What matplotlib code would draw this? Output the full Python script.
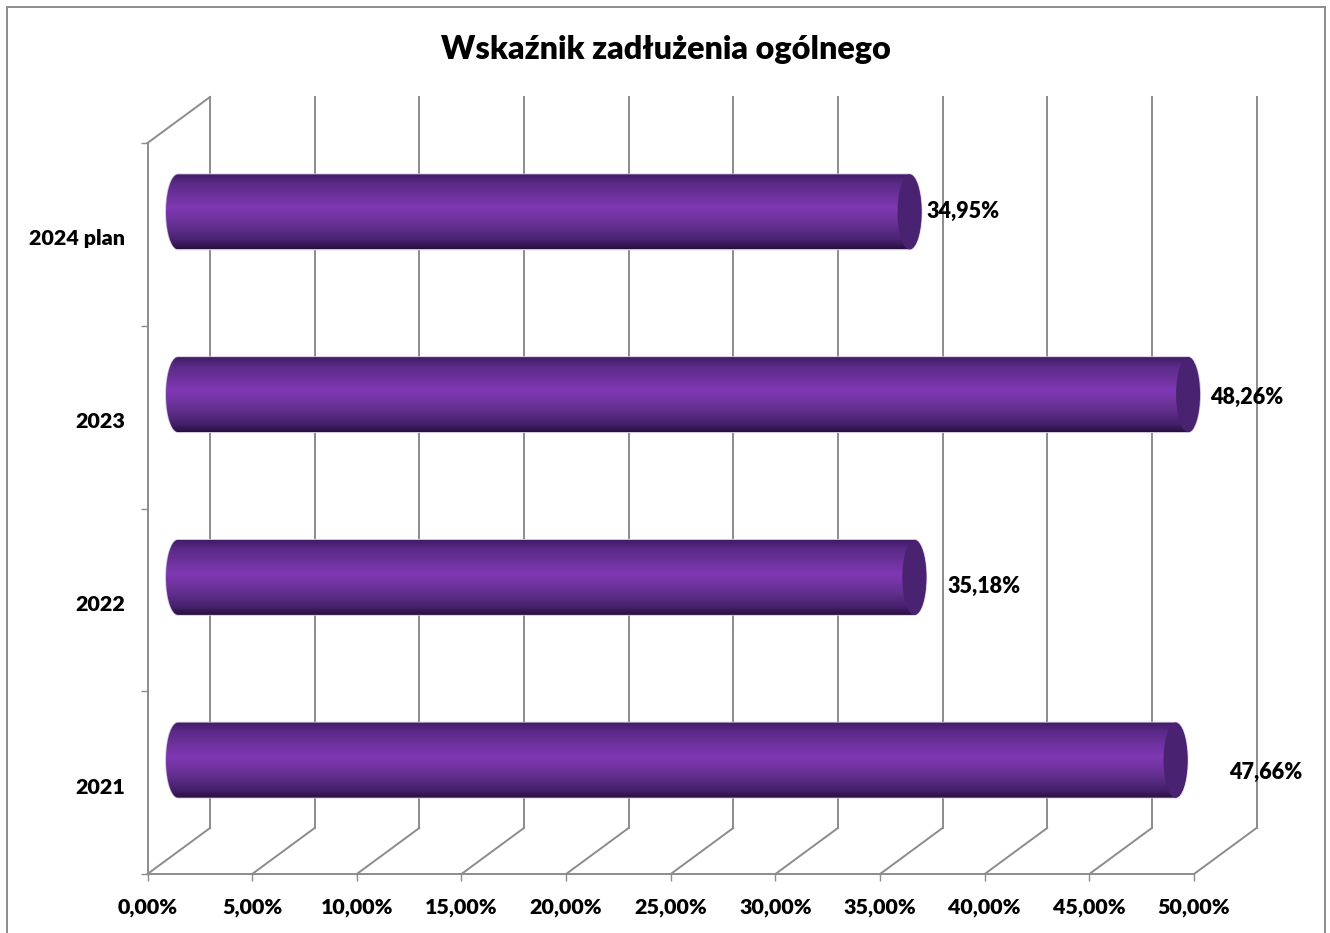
import matplotlib.pyplot as plt
import matplotlib.patches as patches
from matplotlib.colors import LinearSegmentedColormap
from matplotlib.path import Path
from matplotlib.transforms import ScaledTranslation
import numpy as np

plt.rcParams['font.family'] = ['Lato', 'DejaVu Sans']
plt.rcParams['font.weight'] = 'heavy'

# data
categories = ['2021', '2022', '2023', '2024 plan']
values = [47.66, 35.18, 48.26, 34.95]
value_labels = ['47,66%', '35,18%', '48,26%', '34,95%']
x_ticks = [0, 5, 10, 15, 20, 25, 30, 35, 40, 45, 50]
x_tick_labels = ['0,00%', '5,00%', '10,00%', '15,00%', '20,00%', '25,00%',
                 '30,00%', '35,00%', '40,00%', '45,00%', '50,00%']
title = 'Wskaźnik zadłużenia ogólnego'
# where each label was dragged to, in percent past the end of the bar
label_shift = [4.33, 3.33, 2.82, 2.58]
label_rise = [-0.065, -0.05, -0.015, 0.0]

W, H = 1330, 933
AX_L, AX_R, AX_T, AX_B = 147.5, 1194, 143, 874
PX_X = (AX_R - AX_L) / 50.0
PX_Y = (AX_B - AX_T) / 4.0

# 3d look: depth of the floor, and where the bars sit inside it
DEPTH_X, DEPTH_Y = 62.5 / PX_X, 46 / PX_Y
BAR_DX, BAR_DY = 30.5 / PX_X, 22.5 / PX_Y
BAR_H = 75 / PX_Y
CAP_W = 12 / PX_X

GRID = '#8c8c8c'
LW = 1.4

purple = LinearSegmentedColormap.from_list('tube', [
    (0.0, '#3f1c66'), (0.12, '#5a2a86'), (0.45, '#8038b4'),
    (0.7, '#63308f'), (0.9, '#43206a'), (1.0, '#280f3e')])


def bar_path(x0, x1, yc):
    t = np.linspace(np.pi / 2, 3 * np.pi / 2, 40)
    left = np.column_stack([x0 + CAP_W * np.cos(t), yc + BAR_H / 2 * np.sin(t)])
    right = np.column_stack([x1 - CAP_W * np.cos(t), yc - BAR_H / 2 * np.sin(t)])
    return Path(np.vstack([left, right, left[:1]]), closed=True)


fig = plt.figure(figsize=(W / 100, H / 100), dpi=100)
ax = fig.add_axes([AX_L / W, 1 - AX_B / H, (AX_R - AX_L) / W, (AX_B - AX_T) / H])

# outer frame, runs off the bottom of the picture
fig.add_artist(patches.Rectangle((7 / W, -0.02), 1318 / W, 1.02 - 7 / H,
                                 transform=fig.transFigure, fill=False,
                                 edgecolor=GRID, linewidth=1.4))

for v in x_ticks:
    ax.plot([v + DEPTH_X, v + DEPTH_X], [DEPTH_Y, 4 + DEPTH_Y], color=GRID, lw=LW, clip_on=False, zorder=1)
    ax.plot([v, v + DEPTH_X], [0, DEPTH_Y], color=GRID, lw=LW, clip_on=False, zorder=1)
ax.plot([0, 50], [0, 0], color=GRID, lw=LW, clip_on=False, zorder=1)
ax.plot([0, 0], [0, 4], color=GRID, lw=LW, clip_on=False, zorder=1)
ax.plot([0, DEPTH_X], [4, 4 + DEPTH_Y], color=GRID, lw=LW, clip_on=False, zorder=1)

for i, v in enumerate(values):
    yc = i + 0.5 + BAR_DY
    x0, x1 = BAR_DX, v + BAR_DX
    path = bar_path(x0, x1, yc)
    outline = patches.PathPatch(path, facecolor='none', edgecolor='#cfc4dc', lw=1.2, zorder=2, clip_on=False)
    ax.add_patch(outline)
    img = ax.imshow(np.linspace(0, 1, 256).reshape(-1, 1), cmap=purple, aspect='auto',
                    extent=[x0 - CAP_W, x1 + CAP_W, yc - BAR_H / 2, yc + BAR_H / 2],
                    origin='upper', zorder=3)
    img.set_clip_path(patches.PathPatch(path, transform=ax.transData))
    ax.add_patch(patches.Ellipse((x1, yc), 2 * CAP_W, BAR_H, facecolor='#4a2272',
                                 edgecolor='none', zorder=4, clip_on=False))
    ax.text(v + label_shift[i] + BAR_DX, i + 0.5 + label_rise[i] + BAR_DY, value_labels[i],
            ha='center', va='center', fontsize=15.5, color='black', zorder=5, clip_on=False)

ax.set_xlim(0, 50)
ax.set_ylim(0, 4)
ax.set_xticks(x_ticks)
ax.set_xticklabels(x_tick_labels, fontsize=15.4)
ax.set_yticks([0.5, 1.5, 2.5, 3.5])
ax.set_yticklabels(categories, fontsize=15.4)
ax.set_yticks([0, 1, 2, 3, 4], minor=True)
ax.tick_params(axis='x', length=5, width=1, color=GRID, pad=12)
ax.tick_params(axis='y', which='major', length=0, pad=16)
ax.tick_params(axis='y', which='minor', length=5, width=1, color=GRID)
# category labels sit a little under the middle of their band
nudge = ScaledTranslation(0, -3 / 100, fig.dpi_scale_trans)
for t in ax.get_yticklabels():
    t.set_transform(t.get_transform() + nudge)
for s in ax.spines.values():
    s.set_visible(False)
ax.patch.set_visible(False)

fig.text(666 / W, 1 - 49 / H, title, ha='center', va='center', fontsize=23.2, color='black')

fig.savefig('out.png', dpi=100)
